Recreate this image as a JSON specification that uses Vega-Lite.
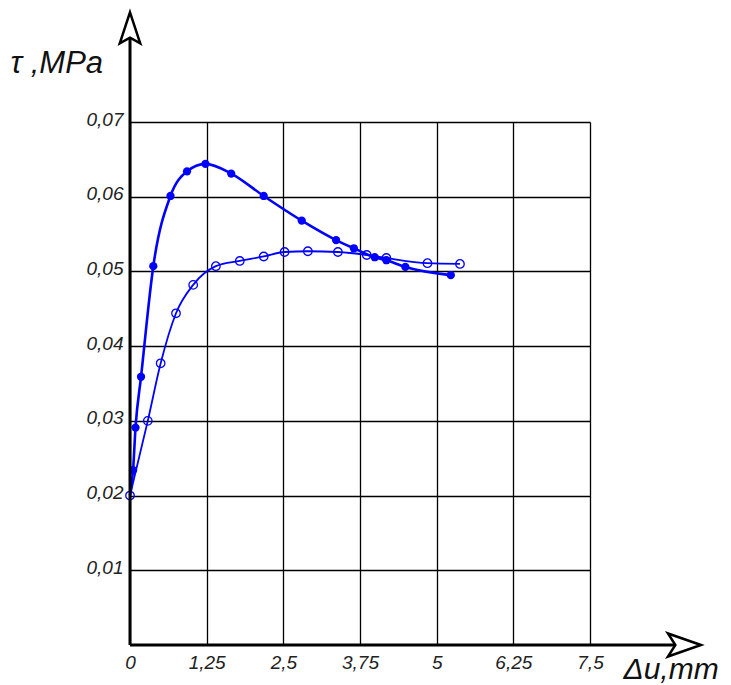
{
  "$schema": "https://vega.github.io/schema/vega-lite/v6.json",
  "width": 460,
  "height": 523,
  "autosize": {"type": "none"},
  "padding": {"left": 130, "top": 122, "right": 141, "bottom": 40},
  "background": "white",
  "config": {"view": {"stroke": null}, "font": "Liberation Sans"},
  "datasets": {
    "curves": [
      {"series": "A", "x": 0, "y": 0.020},
      {"series": "A", "x": 0.05, "y": 0.0234},
      {"series": "A", "x": 0.09, "y": 0.0291},
      {"series": "A", "x": 0.18, "y": 0.0359},
      {"series": "A", "x": 0.38, "y": 0.0507},
      {"series": "A", "x": 0.66, "y": 0.0601},
      {"series": "A", "x": 0.93, "y": 0.0634},
      {"series": "A", "x": 1.23, "y": 0.0644},
      {"series": "A", "x": 1.65, "y": 0.0631},
      {"series": "A", "x": 2.18, "y": 0.0601},
      {"series": "A", "x": 2.80, "y": 0.0568},
      {"series": "A", "x": 3.36, "y": 0.0542},
      {"series": "A", "x": 3.65, "y": 0.0531},
      {"series": "A", "x": 3.99, "y": 0.0519},
      {"series": "A", "x": 4.18, "y": 0.0515},
      {"series": "A", "x": 4.49, "y": 0.0506},
      {"series": "A", "x": 5.23, "y": 0.0495},
      {"series": "B", "x": 0, "y": 0.020},
      {"series": "B", "x": 0.29, "y": 0.030},
      {"series": "B", "x": 0.50, "y": 0.0377},
      {"series": "B", "x": 0.75, "y": 0.0444},
      {"series": "B", "x": 1.03, "y": 0.0482},
      {"series": "B", "x": 1.40, "y": 0.0507},
      {"series": "B", "x": 1.79, "y": 0.0514},
      {"series": "B", "x": 2.18, "y": 0.0520},
      {"series": "B", "x": 2.52, "y": 0.0526},
      {"series": "B", "x": 2.90, "y": 0.0527},
      {"series": "B", "x": 3.39, "y": 0.0526},
      {"series": "B", "x": 3.86, "y": 0.0522},
      {"series": "B", "x": 4.18, "y": 0.0518},
      {"series": "B", "x": 4.85, "y": 0.0511},
      {"series": "B", "x": 5.38, "y": 0.0510}
    ],
    "axes": [
      {"x": 0, "y": 0, "x2": 9.04, "y2": 0},
      {"x": 0, "y": 0, "x2": 0, "y2": 0.0826}
    ],
    "arrows": [
      {"dir": "up", "x": 0, "y": 0.0826},
      {"dir": "right", "x": 9.04, "y": 0}
    ]
  },
  "layer": [
    {
      "data": {"name": "curves"},
      "mark": {"type": "line", "interpolate": "monotone", "color": "#0000FF"},
      "encoding": {
        "x": {
          "field": "x", "type": "quantitative",
          "scale": {"domain": [0, 7.5], "nice": false, "zero": false},
          "axis": {
            "values": [0, 1.25, 2.5, 3.75, 5, 6.25, 7.5],
            "labelExpr": "replace(toString(datum.value), '.', ',')",
            "grid": true, "gridColor": "#000000", "gridWidth": 1.3, "gridOpacity": 1,
            "domain": false, "ticks": false,
            "labelFont": "Liberation Sans", "labelFontStyle": "italic", "labelFontSize": 19,
            "labelColor": "#222222", "labelPadding": 8, "labelFlush": false, "labelOverlap": false,
            "title": "Δu,mm",
            "titleX": 493, "titleY": 33, "titleAlign": "left", "titleBaseline": "alphabetic",
            "titleFont": "Liberation Sans", "titleFontSize": 30, "titleFontWeight": "normal",
            "titleFontStyle": "italic", "titleColor": "#111111"
          }
        },
        "y": {
          "field": "y", "type": "quantitative",
          "scale": {"domain": [0, 0.07], "nice": false, "zero": false},
          "axis": {
            "values": [0.01, 0.02, 0.03, 0.04, 0.05, 0.06, 0.07],
            "labelExpr": "replace(toString(datum.value), '.', ',')",
            "grid": true, "gridColor": "#000000", "gridWidth": 1.3, "gridOpacity": 1,
            "domain": false, "ticks": false,
            "labelFont": "Liberation Sans", "labelFontStyle": "italic", "labelFontSize": 19,
            "labelColor": "#222222", "labelPadding": 7, "labelOffset": -3, "labelFlush": false,
            "labelOverlap": false,
            "title": "τ ,MPa",
            "titleX": -120, "titleY": -50, "titleAngle": 0, "titleAlign": "left",
            "titleBaseline": "alphabetic",
            "titleFont": "Liberation Sans", "titleFontSize": 31, "titleFontWeight": "normal",
            "titleFontStyle": "italic", "titleColor": "#111111"
          }
        },
        "detail": {"field": "series"},
        "strokeWidth": {
          "field": "series", "type": "nominal",
          "scale": {"domain": ["A", "B"], "range": [2.6, 1.8]},
          "legend": null
        }
      }
    },
    {
      "data": {"name": "curves"},
      "transform": [{"filter": "datum.series == 'A' && datum.x > 0"}],
      "mark": {"type": "point", "filled": true, "color": "#0000FF", "size": 68, "opacity": 1},
      "encoding": {
        "x": {"field": "x", "type": "quantitative"},
        "y": {"field": "y", "type": "quantitative"}
      }
    },
    {
      "data": {"name": "curves"},
      "transform": [{"filter": "datum.series == 'B'"}],
      "mark": {"type": "point", "filled": false, "color": "#0000FF", "size": 72, "strokeWidth": 1.3, "opacity": 1},
      "encoding": {
        "x": {"field": "x", "type": "quantitative"},
        "y": {"field": "y", "type": "quantitative"}
      }
    },
    {
      "data": {"name": "axes"},
      "mark": {"type": "rule", "color": "#000000", "strokeWidth": 3},
      "encoding": {
        "x": {"field": "x", "type": "quantitative"},
        "y": {"field": "y", "type": "quantitative"},
        "x2": {"field": "x2"},
        "y2": {"field": "y2"}
      }
    },
    {
      "data": {"name": "arrows"},
      "mark": {"type": "point", "filled": true, "fill": "#FFFFFF", "stroke": "#000000", "strokeWidth": 2.5, "size": 1089, "opacity": 1},
      "encoding": {
        "x": {"field": "x", "type": "quantitative"},
        "y": {"field": "y", "type": "quantitative"},
        "shape": {
          "field": "dir", "type": "nominal",
          "scale": {
            "domain": ["up", "right"],
            "range": ["M0,-0.94L0.62,0.94L0,0.6L-0.62,0.94Z", "M1,0L-1,-0.7L-0.55,0L-1,0.7Z"]
          },
          "legend": null
        }
      }
    }
  ]
}
